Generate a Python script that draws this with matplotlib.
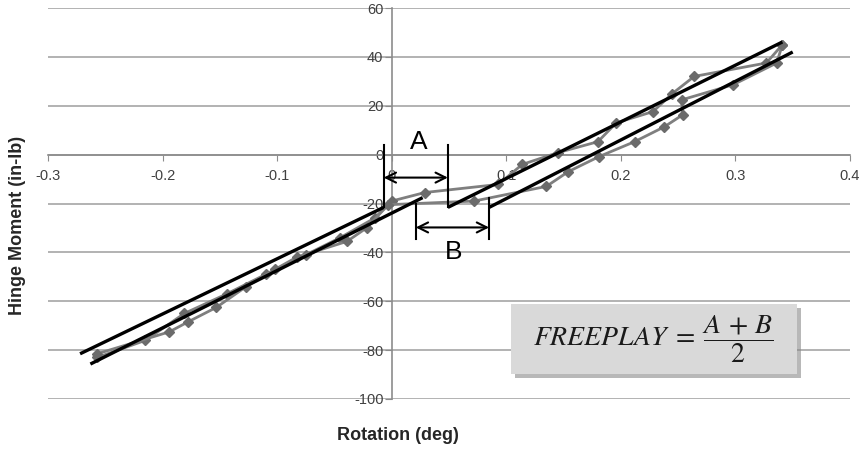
import matplotlib.pyplot as plt
import matplotlib.patheffects as pe
from matplotlib.patches import Rectangle

plt.rcParams['font.family'] = ['Liberation Sans', 'DejaVu Sans']
plt.rcParams['mathtext.fontset'] = 'stix'
plt.rcParams['axes.unicode_minus'] = False

# measured hysteresis loop (rotation deg, hinge moment in-lb)
rot_up = [-0.257, -0.215, -0.181, -0.144, -0.110, -0.075, -0.045, -0.015, 0.000,
          0.029, 0.093, 0.114, 0.145, 0.180, 0.196, 0.228, 0.245, 0.264, 0.327, 0.341]
mom_up = [-83.0, -76.0, -65.0, -57.0, -49.0, -41.0, -34.0, -26.0, -19.0,
          -15.5, -12.2, -4.0, 0.8, 5.3, 13.0, 17.6, 25.0, 32.0, 37.5, 45.0]

rot_dn = [0.341, 0.336, 0.298, 0.253, 0.254, 0.238, 0.212, 0.181, 0.154, 0.135,
          0.072, -0.003, -0.022, -0.039, -0.083, -0.102, -0.127, -0.153, -0.178,
          -0.194, -0.257]
mom_dn = [45.0, 37.5, 28.6, 22.4, 16.3, 11.4, 5.3, -0.8, -7.0, -13.0,
          -19.0, -20.5, -30.0, -35.5, -42.0, -47.0, -54.0, -62.5, -68.5,
          -72.5, -81.5]

# hand-drawn linear fits with freeplay offsets
fit_a_left = ([-0.272, -0.007], [-81.5, -21.6])
fit_b_left = ([-0.263, 0.027], [-85.7, -17.6])
fit_a_right = ([0.049, 0.341], [-21.6, 46.1])
fit_b_right = ([0.085, 0.350], [-21.6, 42.0])

# freeplay marker positions (rotation) and arrow levels (moment)
a_lo, a_hi, a_y = -0.007, 0.049, -9.4
b_lo, b_hi, b_y = 0.021, 0.085, -29.8

fig = plt.figure(figsize=(8.66, 4.5), dpi=100)
ax = fig.add_axes([48 / 866, 1 - 399 / 450, 802 / 866, 391 / 450])

ax.set_xlim(-0.3, 0.4)
ax.set_ylim(-100, 60)
ax.set_xticks([-0.3, -0.2, -0.1, 0, 0.1, 0.2, 0.3, 0.4])
ax.set_xticklabels(['-0.3', '-0.2', '-0.1', '0', '0.1', '0.2', '0.3', '0.4'])
ax.set_yticks(range(-100, 61, 20))

ax.grid(axis='y', color='#a6a6a6', linewidth=1.2)
ax.set_axisbelow(True)
for s in ['top', 'right']:
    ax.spines[s].set_visible(False)
ax.spines['left'].set_position(('data', 0))
ax.spines['bottom'].set_position(('data', 0))
for s in ['left', 'bottom']:
    ax.spines[s].set_color('#8c8c8c')
    ax.spines[s].set_linewidth(1.2)
ax.tick_params(axis='both', colors='#8c8c8c', labelcolor='#404040', labelsize=10.5)
ax.tick_params(axis='y', length=5, pad=1)
ax.tick_params(axis='x', length=4, pad=6)

for xs, ys in [(rot_up, mom_up), (rot_dn, mom_dn)]:
    ax.plot(xs, ys, color='#7f7f7f', linewidth=2, marker='D', markersize=5.5,
            markerfacecolor='#6b6b6b', markeredgecolor='#6b6b6b', zorder=3)

for xs, ys in [fit_a_left, fit_b_left, fit_a_right, fit_b_right]:
    ax.plot(xs, ys, color='black', linewidth=2.4, zorder=4, solid_capstyle='butt')

# freeplay markers
ax.plot([a_lo, a_lo], [4, -21.6], color='black', linewidth=1.5, zorder=4)
ax.plot([a_hi, a_hi], [4, -21.6], color='black', linewidth=1.5, zorder=4)
ax.plot([b_lo, b_lo], [-20.4, -34.5], color='black', linewidth=1.5, zorder=4)
ax.plot([b_hi, b_hi], [-17.6, -34.7], color='black', linewidth=1.5, zorder=4)
for lo, hi, yy in [(a_lo, a_hi, a_y), (b_lo, b_hi, b_y)]:
    ax.annotate('', xy=(lo, yy), xytext=(hi, yy),
                arrowprops=dict(arrowstyle='<->', color='black', lw=1.5, shrinkA=0,
                                shrinkB=0, mutation_scale=18), zorder=5)
ax.text(0.024, 5, 'A', fontsize=19, ha='center', va='center', zorder=5)
ax.text(0.054, -40, 'B', fontsize=19, ha='center', va='center', zorder=5)

box = Rectangle((0.577, 0.064), 0.357, 0.179, transform=ax.transAxes,
                facecolor='#d9d9d9', edgecolor='none', zorder=6)
box.set_path_effects([pe.SimplePatchShadow(offset=(3, -3), shadow_rgbFace='#8a8a8a', alpha=0.6),
                      pe.Normal()])
ax.add_patch(box)
ax.text(0.755, 0.152, r'$FREEPLAY\;=\;\dfrac{A\,+\,B}{2}$', transform=ax.transAxes,
        fontsize=20, ha='center', va='center', color='#1a1a1a', zorder=7)

fig.text(18 / 866, 1 - 225 / 450, 'Hinge Moment (in-lb)', rotation=90, fontsize=13,
         fontweight='bold', ha='center', va='center', color='#262626')
fig.text(398 / 866, 1 - 435 / 450, 'Rotation (deg)', fontsize=13,
         fontweight='bold', ha='center', va='center', color='#262626')

plt.savefig('out.png', dpi=100)
